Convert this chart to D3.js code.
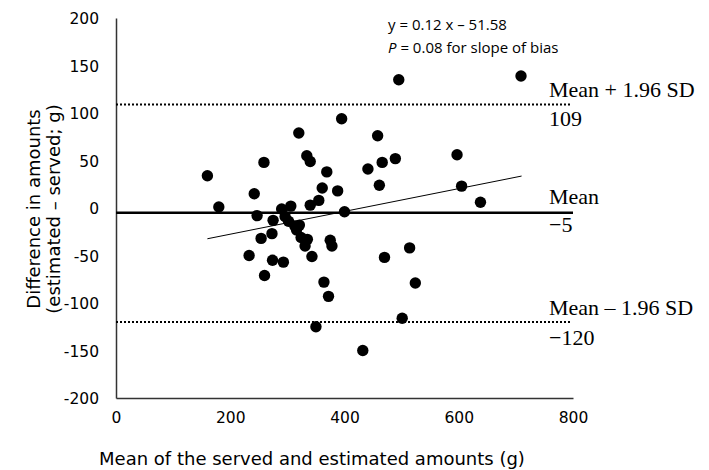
<!DOCTYPE html>
<html>
<head>
<meta charset="utf-8">
<script src="https://cdn.jsdelivr.net/npm/d3@7"></script>
<style>
  html, body { margin: 0; padding: 0; background: #fff; }
  svg { display: block; }
</style>
</head>
<body>
<svg id="chart" width="709" height="470"></svg>
<script>
// Data
const meanAmounts = [160, 180, 233, 242, 247, 254, 259, 260, 273, 274, 275, 290, 293, 296, 302, 306, 313, 316, 321, 320, 324, 331, 335, 334, 340, 340, 343, 350, 355, 361, 364, 369, 372, 375, 378, 388, 395, 400, 432, 441, 458, 461, 466, 470, 489, 495, 501, 514, 524, 597, 605, 638, 709];
const differences = [34, 1, -50, 15, -8, -32, 48, -71, -27, -55, -13, -1, -57, -9, -14, 2, -19, -23, -18, 79, -31, -40, -33, 55, 49, 3, -51, -125, 8, 21, -78, 38, -93, -34, -40, 18, 94, -4, -150, 41, 76, 24, 48, -52, 52, 135, -116, -42, -79, 56, 23, 6, 139];
const xTicks = [0, 200, 400, 600, 800];
const yTicks = [200, 150, 100, 50, 0, -50, -100, -150, -200];
const meanBias = -5;
const upperLimit = 109;
const lowerLimit = -120;
const slope = 0.12, intercept = -51.58;
const regressionRange = [160, 710];

const svg = d3.select("#chart");
const x = d3.scaleLinear().domain([0, 800]).range([116, 573]);
const y = d3.scaleLinear().domain([-200, 200]).range([398, 18]);

const sans = "'DejaVu Sans', sans-serif";
const serif = "'Liberation Serif', 'Times New Roman', serif";

// Axes
const xAxis = svg.append("g").attr("transform", `translate(0,${y(-200)})`)
  .call(d3.axisBottom(x).tickValues(xTicks).tickSize(0).tickSizeOuter(0).tickPadding(14).tickFormat(d3.format("d")));
const yAxis = svg.append("g").attr("transform", `translate(${x(0)},0)`)
  .call(d3.axisLeft(y).tickValues(yTicks).tickSize(0).tickSizeOuter(0).tickPadding(17).tickFormat(d => String(d)));
[xAxis, yAxis].forEach(g => {
  g.select(".domain").attr("stroke", "#333").attr("stroke-width", 1.5);
  g.selectAll("text").attr("font-family", sans).attr("font-size", 15.5).attr("fill", "#000");
});
yAxis.selectAll("text").attr("dy", "0.36em");

// Reference lines
svg.append("line").attr("x1", x(0)).attr("x2", x(800)).attr("y1", y(meanBias)).attr("y2", y(meanBias))
  .attr("stroke", "#000").attr("stroke-width", 2.5);
[upperLimit, lowerLimit].forEach(v => {
  svg.append("line").attr("x1", x(0)).attr("x2", x(795)).attr("y1", y(v)).attr("y2", y(v))
    .attr("stroke", "#000").attr("stroke-width", 2).attr("stroke-dasharray", "2,2");
});

// Regression line
svg.append("line")
  .attr("x1", x(regressionRange[0])).attr("y1", y(slope * regressionRange[0] + intercept))
  .attr("x2", x(regressionRange[1])).attr("y2", y(slope * regressionRange[1] + intercept))
  .attr("stroke", "#000").attr("stroke-width", 1);

// Points
svg.append("g").selectAll("circle").data(meanAmounts).join("circle")
  .attr("cx", d => x(d)).attr("cy", (d, i) => y(differences[i])).attr("r", 5.7).attr("fill", "#000");

// Labels on right
const lab = (t, px, py) => svg.append("text").attr("x", px).attr("y", py).text(t)
  .attr("font-family", serif).attr("font-size", 22).attr("fill", "#000");
lab("Mean + 1.96 SD", 549, 97);
lab("109", 549, 126);
lab("Mean", 549, 204);
lab("\u22125", 549, 232);
lab("Mean \u2013 1.96 SD", 549, 315);
lab("\u2212120", 549, 345);

// Equation
const eq = svg.append("g").attr("font-family", "'Open Sans', sans-serif").attr("font-size", 15).attr("fill", "#000");
eq.append("text").attr("x", 388).attr("y", 30).text("y = 0.12 x \u2013 51.58");
const p = eq.append("text").attr("x", 388).attr("y", 53);
p.append("tspan").attr("font-style", "italic").text("P");
p.append("tspan").text(" = 0.08 for slope of bias");

// Axis titles
svg.append("text").attr("x", 312).attr("y", 465).attr("text-anchor", "middle")
  .attr("font-family", sans).attr("font-size", 18).attr("fill", "#000")
  .text("Mean of the served and estimated amounts (g)");
const yt = svg.append("text").attr("transform", `translate(40,209) rotate(-90)`).attr("text-anchor", "middle")
  .attr("font-family", sans).attr("font-size", 18).attr("fill", "#000");
yt.append("tspan").attr("x", 0).attr("y", 0).text("Difference in amounts");
yt.append("tspan").attr("x", 0).attr("y", 20).text("(estimated \u2013 served; g)");
</script>
</body>
</html>
